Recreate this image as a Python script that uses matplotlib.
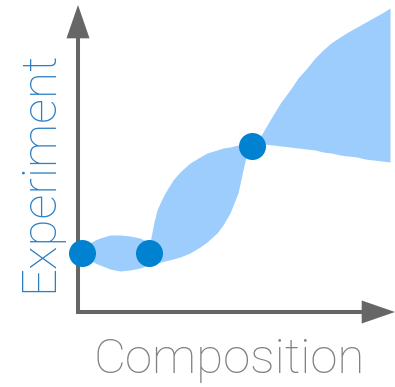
import matplotlib
matplotlib.use('Agg')
import matplotlib.pyplot as plt

# observed experiments (composition, experiment)
obs_x = [4, 71, 174]
obs_y = [59, 59, 166]

# uncertainty band
band_x = [4, 8, 12, 17, 22, 32, 42, 52, 62, 68,
          71, 73, 76, 79, 83, 87, 95, 102, 112, 122, 129, 139, 145, 152, 160, 165, 168, 172,
          174, 180, 185, 195, 203, 212, 220, 229, 237, 245, 253, 262, 270, 279, 287, 295, 304, 312]
band_hi = [59, 65, 69, 72, 74, 77, 77, 76, 74, 71,
           59, 75, 90, 102, 111, 119, 132, 140, 149, 155, 159, 162, 164, 165, 167, 167, 167, 167,
           166, 172, 180, 197, 210, 222, 234, 244, 254, 262, 269, 275, 280, 285, 289.5, 294, 299, 304]
band_lo = [59, 55, 52, 49, 47, 43, 41, 42, 44, 46,
           59, 47, 48, 49, 50, 51, 53, 55, 59, 65, 70, 79, 87, 99, 119, 142, 155, 162,
           166, 167, 168, 167, 166, 165, 164, 163, 162, 160, 159, 157, 156, 155, 153, 152, 151, 150]

axis_col = '#666666'
band_col = '#9dcdfd'
point_col = '#0082d0'

fig = plt.figure(figsize=(3.95, 3.87), dpi=100)
ax = fig.add_axes([0, 0, 1, 1])
ax.set_xlim(-78, 317)
ax.set_ylim(-75, 312)
ax.axis('off')

ax.fill_between(band_x, band_lo, band_hi, color=band_col, linewidth=0, zorder=1)
ax.scatter(obs_x, obs_y, s=(27 * 0.72) ** 2, color=point_col, linewidths=0, zorder=3)

# L-shaped axes with arrow heads
ax.plot([0, 0, 290], [285, 0, 0], color=axis_col, lw=2.9, solid_joinstyle='miter',
        solid_capstyle='butt', zorder=2)
arrow = dict(arrowstyle='-|>,head_length=24,head_width=8.3', mutation_scale=1,
             color=axis_col, lw=0, shrinkA=0, shrinkB=0)
ax.annotate('', xy=(0, 307), xytext=(0, 270), arrowprops=arrow)
ax.annotate('', xy=(317, 0), xytext=(280, 0), arrowprops=arrow)

ax.text(151.5, -61, 'Composition', ha='center', va='baseline', fontsize=35.5,
        family='Roboto', weight='light', color='#808080')
ax.text(-26, 141, 'Experiment', ha='center', va='baseline', rotation=90,
        rotation_mode='anchor', fontsize=35.5, family='Roboto', weight='light',
        color='#2a7fc6')

fig.savefig('out.png', dpi=100)
